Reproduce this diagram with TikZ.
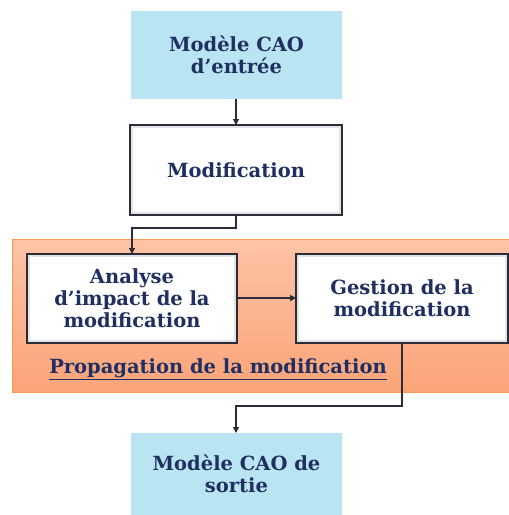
\documentclass[tikz,border=0pt]{standalone}
\usepackage{fontspec}
\setmainfont{DejaVu Serif}
\usetikzlibrary{arrows.meta}
\definecolor{txtc}{HTML}{1F2F62}
\definecolor{lblue}{HTML}{B8E5F1}
\definecolor{orgtop}{HTML}{FDC3A6}
\definecolor{orgbot}{HTML}{FBA479}
\definecolor{orgline}{HTML}{F79A55}
\definecolor{boxline}{HTML}{2A2C3A}
\tikzset{
  x=1pt,y=-1pt,
  lbl/.style={font=\bfseries\fontsize{19.5}{22}\selectfont, text=txtc, align=center},
  bluebox/.style={fill=lblue, draw=none},
  whitebox/.style={fill=white, draw=boxline, line width=1.6pt},
  bevel/.style={draw=black!11, line width=2pt},
  conn/.style={draw=boxline, line width=1.1pt, -{Triangle[length=6pt,width=6pt]}},
}
\begin{document}
\begin{tikzpicture}
\useasboundingbox (0,0) rectangle (509,515);
% orange region
\path[top color=orgtop, bottom color=orgbot, draw=orgline, line width=0.8pt] (12,239) rectangle (509,392);
% boxes
\path[bluebox] (131,11) rectangle (342,99);
\node[lbl] (in) at (236.5,55) {Modèle CAO\\d’entrée};
\path[whitebox] (130,125) rectangle (342,215);
\path[bevel] (132,127) rectangle (340,213);
\node[lbl] (mod) at (236,170) {Modification};
\path[whitebox] (27,254) rectangle (237,343);
\path[bevel] (29,256) rectangle (235,341);
\node[lbl] (ana) at (132,298) {Analyse\\d’impact de la\\modification};
\path[whitebox] (296,254) rectangle (508,343);
\path[bevel] (298,256) rectangle (506,341);
\node[lbl] (ges) at (402,298) {Gestion de la\\modification};
\path[bluebox] (131,433) rectangle (342,515);
\node[lbl] (out) at (236.5,474) {Modèle CAO de\\sortie};
\node[lbl, anchor=base] (prop) at (218,373) {\underline{Propagation de la modification}};
% named anchor coordinates
\coordinate (inB) at (236,99);
\coordinate (modT) at (236,125);
\coordinate (modB) at (236,215);
\coordinate (anaT) at (132,254);
\coordinate (anaR) at (237,298);
\coordinate (gesL) at (296,298);
\coordinate (gesB) at (402,343);
\coordinate (outT) at (236,433);
\draw[conn] (inB) -- (modT);
\draw[conn] (modB) -- (236,228) -| (anaT);
\draw[conn] (anaR) -- (gesL);
\draw[conn] (gesB) -- (402,406) -| (outT);
\end{tikzpicture}
\end{document}
